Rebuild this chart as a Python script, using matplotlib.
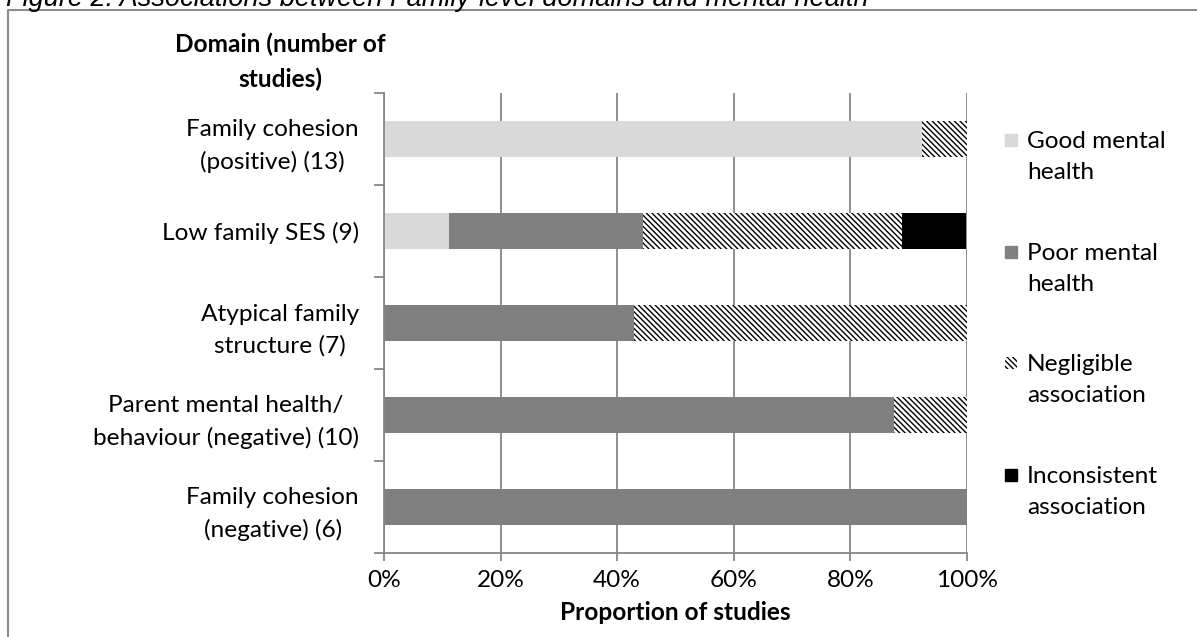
import matplotlib.pyplot as plt
from matplotlib.lines import Line2D
from matplotlib.patches import Rectangle

plt.rcParams['font.family'] = ['Lato', 'DejaVu Sans']
plt.rcParams['hatch.linewidth'] = 1.0

domains = ['Family cohesion\n(positive) (13)',
           'Low family SES (9)',
           'Atypical family\nstructure (7)',
           'Parent mental health/\nbehaviour (negative) (10)',
           'Family cohesion\n(negative) (6)']
series = ['Good mental\nhealth', 'Poor mental\nhealth',
          'Negligible\nassociation', 'Inconsistent\nassociation']
good = [92.3, 11.1, 0, 0, 0]
poor = [0, 33.3, 42.9, 87.5, 100]
negligible = [7.7, 44.4, 57.1, 12.5, 0]
inconsistent = [0, 11.1, 0, 0, 0]
x_ticks = [0, 20, 40, 60, 80, 100]

W, H = 1197, 637
fs = 17.6
ls = 1.58
fig = plt.figure(figsize=(W / 100, H / 100), dpi=100)
ax = fig.add_axes([384 / W, 1 - 553 / H, (967 - 384) / W, (553 - 93) / H])

grey = '#868686'
styles = [dict(color='#D9D9D9'),
          dict(color='#808080'),
          dict(facecolor='white', edgecolor='black', hatch='\\' * 6, linewidth=0),
          dict(color='black')]

y = list(range(len(domains)))
left = [0] * len(domains)
for vals, st in zip([good, poor, negligible, inconsistent], styles):
    ax.barh(y, vals, left=left, height=0.4, zorder=3, **st)
    left = [a + b for a, b in zip(left, vals)]

ax.set_xlim(0, 100)
ax.set_ylim(len(domains) - 0.5, -0.5)
ax.set_xticks(x_ticks)
ax.set_xticklabels([f'{t}%' for t in x_ticks], fontsize=fs)
ax.xaxis.grid(True, color=grey, linewidth=1.3, zorder=0)
ax.tick_params(axis='x', direction='out', length=6, width=1.3, color=grey, pad=6)

# category boundaries carry the tick marks, centres carry the labels
ax.set_yticks([i - 0.5 for i in range(len(domains) + 1)])
ax.set_yticklabels([])
ax.set_yticks(y, minor=True)
ax.set_yticklabels(domains, minor=True, fontsize=fs, multialignment='center',
                   linespacing=ls)
ax.tick_params(axis='y', which='major', direction='out', length=7, width=1.3, color=grey)
ax.tick_params(axis='y', which='minor', length=0, pad=18)

for s in ['top', 'right']:
    ax.spines[s].set_visible(False)
for s in ['left', 'bottom']:
    ax.spines[s].set_color(grey)
    ax.spines[s].set_linewidth(1.3)
    ax.spines[s].set_zorder(4)

fig.text(280 / W, 1 - 62 / H, 'Domain (number of\nstudies)', ha='center', va='center',
         fontsize=fs, fontweight='bold', linespacing=ls)
fig.text((384 + 967) / 2 / W, 1 - 613 / H, 'Proportion of studies', ha='center',
         va='center', fontsize=fs, fontweight='bold')

# legend drawn to the right of the plot, marker level with the first line
leg_y = [140, 252, 363, 475]
for name, st, ly in zip(series, styles, leg_y):
    fig.add_artist(Rectangle((1005 / W, 1 - (ly + 6) / H), 12 / W, 12 / H,
                             transform=fig.transFigure, **st))
    fig.text(1027 / W, 1 - (ly - 9) / H, name, ha='left', va='top',
             fontsize=fs, linespacing=ls)

# figure caption and frame
fig.text(6 / W, 1 - 6 / H,
         'Figure 2: Associations between Family-level domains and mental health',
         family=['Liberation Sans', 'DejaVu Sans'], style='italic', fontsize=19.5,
         ha='left', va='baseline')
fig.add_artist(Line2D([8 / W, 8 / W, 1], [0, 1 - 10 / H, 1 - 10 / H],
                      transform=fig.transFigure, color='#8C8C8C', linewidth=1.5))

fig.savefig('out.png', dpi=100)
